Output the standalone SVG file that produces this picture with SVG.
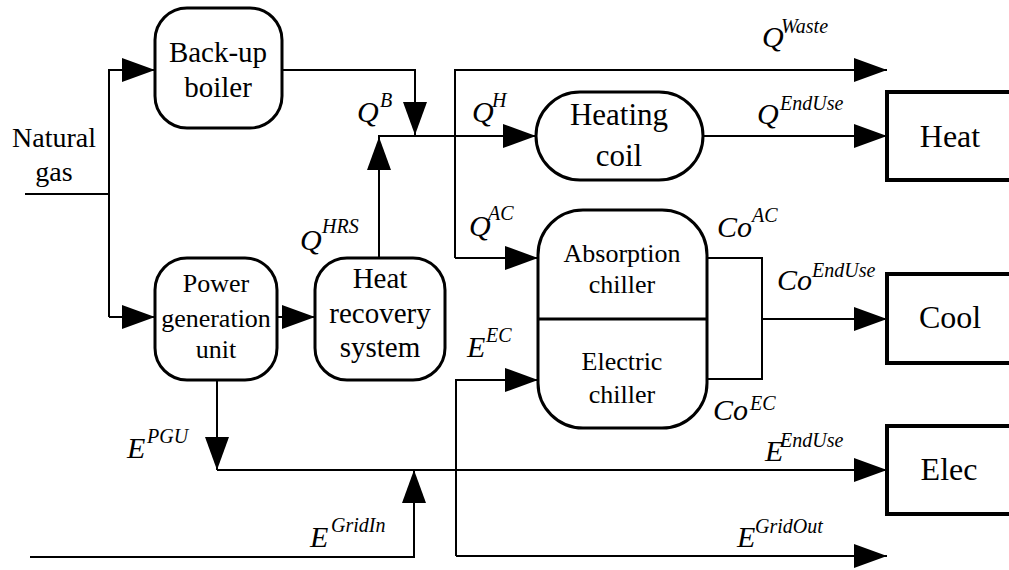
<svg xmlns="http://www.w3.org/2000/svg" width="1009" height="570" viewBox="0 0 1009 570">
<defs>
<marker id="ah" markerUnits="userSpaceOnUse" markerWidth="34" markerHeight="24" refX="33" refY="12" orient="auto"><path d="M0,0 L33,12 L0,24 z" fill="#000"/></marker>
</defs>
<rect width="1009" height="570" fill="#fff"/>
<g id="connectors" fill="none" stroke="#000" stroke-width="2">
<path d="M25,194 H109"/>
<path d="M109,317 V70 H155" marker-end="url(#ah)"/>
<path d="M109,317 H155" marker-end="url(#ah)"/>
<path d="M282,70 H415 V135" marker-end="url(#ah)"/>
<path d="M277,317 H315" marker-end="url(#ah)"/>
<path d="M379,258 V137" marker-end="url(#ah)"/>
<path d="M378,136 H536" marker-end="url(#ah)"/>
<path d="M455,258 V70 H887" marker-end="url(#ah)"/>
<path d="M455,258 H538" marker-end="url(#ah)"/>
<path d="M703,136 H887" marker-end="url(#ah)"/>
<path d="M707,258 H762 V379 H707"/>
<path d="M762,319 H887" marker-end="url(#ah)"/>
<path d="M456,556 V380 H538" marker-end="url(#ah)"/>
<path d="M456,556 H887" marker-end="url(#ah)"/>
<path d="M217,380 V470" marker-end="url(#ah)"/>
<path d="M217,470 H887" marker-end="url(#ah)"/>
<path d="M30,557 H414 V470" marker-end="url(#ah)"/>
</g>
<g id="boiler"><rect fill="#fff" stroke="#000" stroke-width="3" x="155" y="8" width="127" height="120" rx="32"/><text font-family="Liberation Serif" text-anchor="middle" font-size="29" x="218" y="62">Back-up</text><text font-family="Liberation Serif" text-anchor="middle" font-size="29" x="218" y="97">boiler</text></g>
<g id="gas"><text font-family="Liberation Serif" text-anchor="middle" font-size="28" x="54" y="147">Natural</text><text font-family="Liberation Serif" text-anchor="middle" font-size="28" x="54" y="181">gas</text></g>
<g id="pgu"><rect fill="#fff" stroke="#000" stroke-width="3" x="155" y="258" width="122" height="122" rx="32"/><text font-family="Liberation Serif" text-anchor="middle" font-size="26" x="216" y="292">Power</text><text font-family="Liberation Serif" text-anchor="middle" font-size="26" x="216" y="327">generation</text><text font-family="Liberation Serif" text-anchor="middle" font-size="26" x="216" y="358">unit</text></g>
<g id="hrs"><rect fill="#fff" stroke="#000" stroke-width="3" x="315" y="258" width="130" height="122" rx="32"/><text font-family="Liberation Serif" text-anchor="middle" font-size="29" x="380" y="288">Heat</text><text font-family="Liberation Serif" text-anchor="middle" font-size="29" x="380" y="323">recovery</text><text font-family="Liberation Serif" text-anchor="middle" font-size="29" x="380" y="357">system</text></g>
<g id="coil"><rect fill="#fff" stroke="#000" stroke-width="3" x="536" y="92" width="167" height="88" rx="44"/><text font-family="Liberation Serif" text-anchor="middle" font-size="31" x="619" y="125">Heating</text><text font-family="Liberation Serif" text-anchor="middle" font-size="31" x="619" y="166">coil</text></g>
<g id="chillers"><rect fill="#fff" stroke="#000" stroke-width="3" x="538" y="210" width="169" height="218" rx="45"/><path d="M538,319 H707" stroke="#000" stroke-width="3"/><text font-family="Liberation Serif" text-anchor="middle" font-size="26" x="622" y="262">Absorption</text><text font-family="Liberation Serif" text-anchor="middle" font-size="26" x="622" y="293">chiller</text><text font-family="Liberation Serif" text-anchor="middle" font-size="26" x="622" y="370">Electric</text><text font-family="Liberation Serif" text-anchor="middle" font-size="26" x="622" y="403">chiller</text></g>
<g id="heat"><rect fill="#fff" stroke="#000" stroke-width="4" x="887" y="92" width="130" height="88"/><text font-family="Liberation Serif" text-anchor="middle" font-size="32" x="950" y="147">Heat</text></g>
<g id="cool"><rect fill="#fff" stroke="#000" stroke-width="4" x="887" y="274" width="130" height="89"/><text font-family="Liberation Serif" text-anchor="middle" font-size="32" x="950" y="328">Cool</text></g>
<g id="elec"><rect fill="#fff" stroke="#000" stroke-width="4" x="887" y="426" width="130" height="88"/><text font-family="Liberation Serif" text-anchor="middle" font-size="32" x="949" y="480">Elec</text></g>
<g id="labels">
<text font-family="Liberation Serif" font-style="italic" font-size="30" x="762" y="47">Q</text><text font-family="Liberation Serif" font-style="italic" font-size="20" x="781" y="33">Waste</text>
<text font-family="Liberation Serif" font-style="italic" font-size="30" x="757" y="124">Q</text><text font-family="Liberation Serif" font-style="italic" font-size="20" x="780" y="110">EndUse</text>
<text font-family="Liberation Serif" font-style="italic" font-size="30" x="472" y="122">Q</text><text font-family="Liberation Serif" font-style="italic" font-size="20" x="492" y="107">H</text>
<text font-family="Liberation Serif" font-style="italic" font-size="30" x="357" y="122">Q</text><text font-family="Liberation Serif" font-style="italic" font-size="20" x="380" y="107">B</text>
<text font-family="Liberation Serif" font-style="italic" font-size="30" x="469" y="236">Q</text><text font-family="Liberation Serif" font-style="italic" font-size="20" x="488" y="220">AC</text>
<text font-family="Liberation Serif" font-style="italic" font-size="30" x="300" y="250">Q</text><text font-family="Liberation Serif" font-style="italic" font-size="20" x="322" y="233">HRS</text>
<text font-family="Liberation Serif" font-style="italic" font-size="30" x="717" y="237">Co</text><text font-family="Liberation Serif" font-style="italic" font-size="20" x="752" y="222">AC</text>
<text font-family="Liberation Serif" font-style="italic" font-size="30" x="777" y="290">Co</text><text font-family="Liberation Serif" font-style="italic" font-size="20" x="812" y="277">EndUse</text>
<text font-family="Liberation Serif" font-style="italic" font-size="30" x="467" y="357">E</text><text font-family="Liberation Serif" font-style="italic" font-size="20" x="486" y="342">EC</text>
<text font-family="Liberation Serif" font-style="italic" font-size="30" x="713" y="420">Co</text><text font-family="Liberation Serif" font-style="italic" font-size="20" x="750" y="410">EC</text>
<text font-family="Liberation Serif" font-style="italic" font-size="30" x="127" y="458">E</text><text font-family="Liberation Serif" font-style="italic" font-size="20" x="147" y="443">PGU</text>
<text font-family="Liberation Serif" font-style="italic" font-size="30" x="310" y="547">E</text><text font-family="Liberation Serif" font-style="italic" font-size="20" x="331" y="532">GridIn</text>
<text font-family="Liberation Serif" font-style="italic" font-size="30" x="765" y="461">E</text><text font-family="Liberation Serif" font-style="italic" font-size="20" x="780" y="447">EndUse</text>
<text font-family="Liberation Serif" font-style="italic" font-size="30" x="737" y="547">E</text><text font-family="Liberation Serif" font-style="italic" font-size="20" x="755" y="533">GridOut</text>
</g>
</svg>
